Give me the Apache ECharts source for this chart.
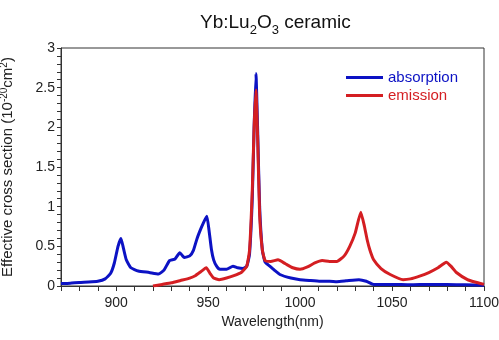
<!DOCTYPE html>
<html>
<head>
<meta charset="utf-8">
<script src="https://cdn.jsdelivr.net/npm/echarts@6/dist/echarts.min.js"></script>
<style>
  html, body { margin: 0; padding: 0; background: #fff; }
  #chart { width: 499px; height: 340px; }
</style>
</head>
<body>
<div id="chart"></div>
<script>
// absorption spectrum (wavelength nm, cross section 1e-20 cm2)
const absWl = [870, 875, 880, 885, 890, 894, 897, 899, 901, 902.6, 904, 905.5, 908, 912, 918, 923, 926, 929, 932, 934.6, 937, 940, 942, 944, 946, 947.5, 949.3, 950.5, 951.8, 953, 954.6, 956.4, 960, 963.5, 966, 969, 971, 972.5, 974, 975, 976, 977, 978, 979.5, 981, 983.5, 986, 989, 995, 1000, 1005, 1011, 1016, 1020, 1025, 1032, 1036, 1040, 1050, 1060, 1070, 1080, 1090, 1100]
const absVal = [0.03, 0.035, 0.045, 0.05, 0.06, 0.09, 0.16, 0.29, 0.5, 0.6, 0.47, 0.33, 0.23, 0.19, 0.17, 0.15, 0.2, 0.32, 0.34, 0.42, 0.36, 0.38, 0.45, 0.6, 0.72, 0.8, 0.88, 0.7, 0.46, 0.33, 0.25, 0.21, 0.21, 0.25, 0.23, 0.22, 0.25, 0.4, 1.1, 2.0, 2.68, 1.9, 1.0, 0.45, 0.3, 0.25, 0.2, 0.145, 0.1, 0.08, 0.07, 0.06, 0.06, 0.055, 0.065, 0.08, 0.06, 0.02, 0.02, 0.015, 0.02, 0.02, 0.015, 0.01]

// emission spectrum
const emWl = [920, 925, 930, 935, 940, 943, 946, 949, 951, 953, 956, 960, 964, 968, 971, 972.5, 974, 975, 976, 977, 978, 979.5, 981, 984, 988, 992, 996, 1000, 1004, 1008, 1012, 1016, 1020, 1024, 1027, 1030, 1033, 1035, 1036.5, 1038, 1040, 1044, 1049, 1056, 1060, 1065, 1070, 1075, 1079.5, 1082, 1085, 1091, 1095, 1100]
const emVal = [0.0, 0.02, 0.04, 0.07, 0.1, 0.13, 0.18, 0.23, 0.16, 0.1, 0.08, 0.1, 0.13, 0.17, 0.25, 0.45, 1.2, 2.0, 2.47, 1.8, 0.9, 0.45, 0.32, 0.31, 0.33, 0.28, 0.23, 0.21, 0.24, 0.29, 0.32, 0.31, 0.31, 0.38, 0.5, 0.67, 0.93, 0.75, 0.58, 0.45, 0.33, 0.22, 0.145, 0.08, 0.09, 0.125, 0.17, 0.23, 0.3, 0.25, 0.17, 0.08, 0.05, 0.02]

const xTicks = [900, 950, 1000, 1050, 1100]
const yTicks = [0, 0.5, 1, 1.5, 2, 2.5, 3]

const BLUE = '#0c12c4'
const RED = '#d41e22'
const font = 'Liberation Sans, Arial, sans-serif'

const myChart = echarts.init(document.getElementById('chart'))

const option = {
  animation: false,
  title: {
    text: '{a|Yb:Lu}{s|2}{a|O}{s|3}{a| ceramic}',
    left: 195,
    top: 6,
    textStyle: {
      rich: {
        a: { fontSize: 19, fontFamily: font, fontWeight: 'normal', color: '#111', lineHeight: 24 },
        s: { fontSize: 13, fontFamily: font, fontWeight: 'normal', color: '#111', lineHeight: 24, padding: [14, 0, 0, 0] },
      },
    },
  },
  legend: {
    orient: 'vertical',
    left: 341,
    top: 65,
    itemWidth: 37,
    itemHeight: 3,
    itemGap: 3,
    icon: 'rect',
    textStyle: { fontSize: 15, fontFamily: font },
    data: [
      { name: 'absorption', textStyle: { color: BLUE } },
      { name: 'emission', textStyle: { color: RED } },
    ],
  },
  grid: {
    left: 61,
    right: 15,
    top: 48,
    bottom: 54,
    show: true,
    borderColor: '#333',
    borderWidth: 1,
    containLabel: false,
    outerBoundsMode: 'none',
  },
  xAxis: {
    type: 'value',
    min: 870,
    max: 1100,
    interval: 10,
    name: 'Wavelength(nm)',
    nameLocation: 'middle',
    nameGap: 26,
    nameTextStyle: { fontSize: 14, fontFamily: font, color: '#222' },
    axisLine: { lineStyle: { color: '#333' } },
    axisTick: {
      length: 5,
      lineStyle: { color: '#333' },
      interval: 0,
    },
    axisLabel: {
      fontSize: 14,
      fontFamily: font,
      color: '#222',
      margin: 10,
      formatter: (v) => (xTicks.includes(v) ? String(v) : ''),
    },
    splitLine: { show: false },
  },
  yAxis: {
    type: 'value',
    min: 0,
    max: 3,
    interval: 0.1,
    name: '{a|Effective cross section (10}{s|-20}{a|cm}{s|2}{a|)}',
    nameLocation: 'middle',
    nameGap: 44,
    nameTextStyle: {
      rich: {
        a: { fontSize: 15, fontFamily: font, color: '#222', lineHeight: 18 },
        s: { fontSize: 10, fontFamily: font, color: '#222', lineHeight: 18, padding: [0, 0, 8, 0] },
      },
    },
    axisLine: { show: true, lineStyle: { color: '#333' } },
    axisTick: { length: 4, lineStyle: { color: '#333' } },
    axisLabel: {
      fontSize: 14,
      fontFamily: font,
      color: '#222',
      margin: 6,
      formatter: (v) => {
        const r = Math.round(v * 10) / 10
        return yTicks.includes(r) ? String(r) : ''
      },
    },
    splitLine: { show: false },
  },
  series: [
    {
      name: 'absorption',
      type: 'line',
      data: absWl.map((w, i) => [w, absVal[i]]),
      showSymbol: false,
      smooth: 0.15,
      lineStyle: { color: BLUE, width: 3 },
      itemStyle: { color: BLUE },
      z: 2,
    },
    {
      name: 'emission',
      type: 'line',
      data: emWl.map((w, i) => [w, emVal[i]]),
      showSymbol: false,
      smooth: 0.15,
      lineStyle: { color: RED, width: 3 },
      itemStyle: { color: RED },
      z: 3,
    },
  ],
}

myChart.setOption(option)
</script>
</body>
</html>
